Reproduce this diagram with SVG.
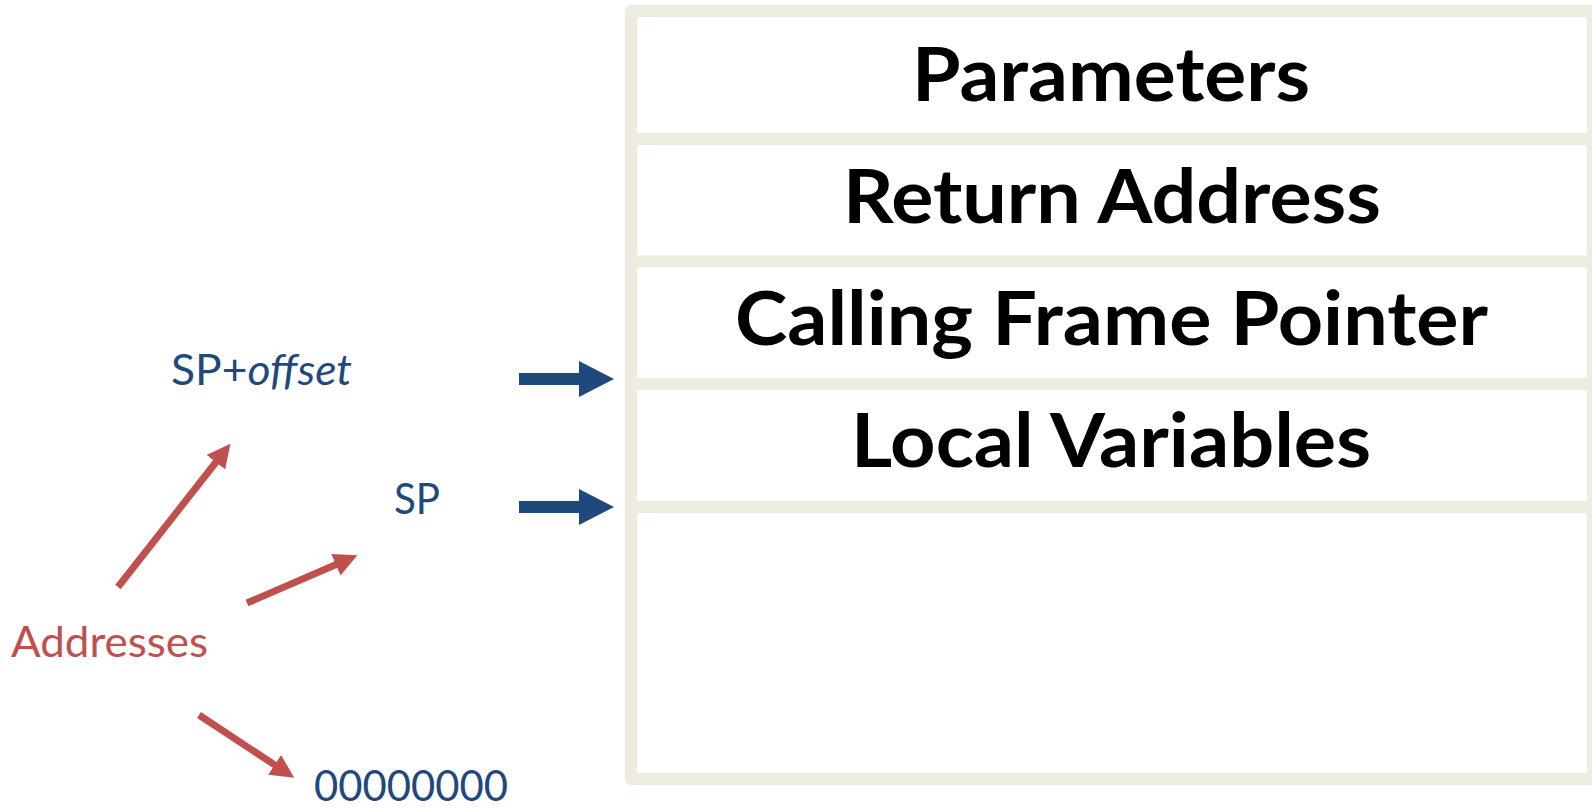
<svg xmlns="http://www.w3.org/2000/svg" width="1592" height="808" viewBox="0 0 1592 808">
  <style>
    .frame { fill: none; stroke: #EEECE1; stroke-width: 12; stroke-linejoin: round; }
    .div { stroke: #EEECE1; stroke-width: 12; }
    .big { font-family: Lato, "Liberation Sans", sans-serif; font-weight: bold; font-size: 74px; fill: #000000; text-anchor: middle; }
    .lbl { font-family: Lato, "Liberation Sans", sans-serif; font-size: 42px; }
    .blue { fill: #1F497D; }
    .red { fill: #C0504D; }
    .rarrow { stroke: #C0504D; stroke-width: 7; fill: none; marker-end: url(#redhead); }
    .barrow { fill: #1F497D; }
  </style>
  <defs>
    <marker id="redhead" viewBox="0 0 10 10" refX="0.4" refY="5" markerUnits="userSpaceOnUse" markerWidth="23.5" markerHeight="24" orient="auto">
      <path d="M0,0 L10,5 L0,10 Z" fill="#C0504D"/>
    </marker>
  </defs>
  <rect width="1592" height="808" fill="#FFFFFF"/>

  <g id="stack">
    <rect class="frame" x="631" y="11" width="962" height="768"/>
    <line class="div" x1="631" y1="139" x2="1592" y2="139"/>
    <line class="div" x1="631" y1="261.5" x2="1592" y2="261.5"/>
    <line class="div" x1="631" y1="384" x2="1592" y2="384"/>
    <line class="div" x1="631" y1="507" x2="1592" y2="507"/>
  </g>

  <g id="cell-parameters">
    <text class="big" x="1111" y="101" textLength="398" lengthAdjust="spacingAndGlyphs">Parameters</text>
  </g>
  <g id="cell-return-address">
    <text class="big" x="1112" y="223" textLength="538" lengthAdjust="spacingAndGlyphs">Return Address</text>
  </g>
  <g id="cell-calling-frame-pointer">
    <text class="big" x="1111.5" y="345" textLength="753" lengthAdjust="spacingAndGlyphs">Calling Frame Pointer</text>
  </g>
  <g id="cell-local-variables">
    <text class="big" x="1111" y="467" textLength="520" lengthAdjust="spacingAndGlyphs">Local Variables</text>
  </g>
  <g id="cell-empty"></g>

  <g id="label-sp-offset">
    <text class="lbl blue" x="171" y="385" textLength="181" lengthAdjust="spacingAndGlyphs">SP+<tspan font-style="italic">offset</tspan></text>
  </g>
  <g id="label-sp">
    <text class="lbl blue" x="394" y="514" textLength="46" lengthAdjust="spacingAndGlyphs">SP</text>
  </g>
  <g id="label-addresses">
    <text class="lbl red" x="11" y="657" textLength="197" lengthAdjust="spacingAndGlyphs">Addresses</text>
  </g>
  <g id="label-zero">
    <text class="lbl blue" x="314" y="801" textLength="194" lengthAdjust="spacingAndGlyphs">00000000</text>
  </g>

  <g id="connectors">
    <path class="barrow" d="M519,373 H579 V361 L614,379 L579,397 V385 H519 Z"/>
    <path class="barrow" d="M519,501 H579 V489 L614,507 L579,525 V513 H519 Z"/>
    <line class="rarrow" x1="118" y1="587" x2="216.5" y2="461.5"/>
    <line class="rarrow" x1="247" y1="603" x2="336.7" y2="564.3"/>
    <line class="rarrow" x1="199" y1="715" x2="275.4" y2="765.4"/>
  </g>
</svg>
